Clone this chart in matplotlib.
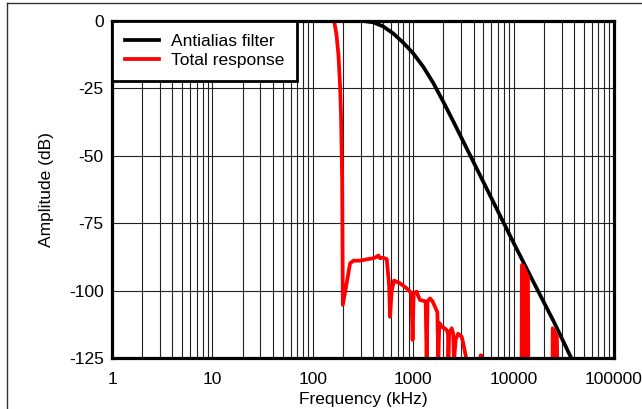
import numpy as np
import matplotlib.pyplot as plt
from matplotlib.lines import Line2D

plt.rcParams['font.family'] = ['Liberation Sans', 'DejaVu Sans']

# antialias filter response (kHz, dB)
filt_f = [316, 398, 501, 631, 794, 1000, 1259, 1585, 1995, 2512, 3162, 3981,
          5012, 6310, 7943, 10000, 15849, 25119, 39811]
filt_db = [0, -0.5, -2.0, -4.6, -8.0, -12.0, -17.0, -23.0, -30.0, -37.3,
           -44.8, -52.3, -59.8, -67.3, -74.8, -82.3, -97.0, -111.5, -127.0]

# total response (kHz, dB)
tot_f = [163, 172, 180, 187, 191, 196, 199, 218, 235, 254, 295, 344, 401, 430,
         450, 467, 500, 545, 575, 588, 610, 644, 739, 850, 895, 960, 986, 1010,
         1083, 1120, 1170, 1330, 1360, 1390, 1470, 1560, 1648, 1740, 1778,
         1820, 1923, 2050, 2157, 2220, 2240, 2280, 2417, 2500, 2550, 2650,
         2800, 3040, 3150, 3410, 3450,
         4600, 4700, 4760, 4800,
         12000, 12100, 12500, 12600, 12800, 13200, 13300, 13500, 13900, 14000,
         24400, 24500, 25500, 25700, 26000, 27000, 27200]
tot_db = [0, -5, -12.6, -24.4, -35, -60, -105.3, -97, -89.9, -88.9, -88.9,
          -88.4, -88, -87.5, -87, -88, -87.8, -88.3, -98, -109.7, -100, -96.3,
          -97.3, -99, -99.8, -101, -118.3, -101, -100.4, -102, -103.5, -104,
          -126, -104, -102.9, -104, -106, -108, -126, -112, -113.4, -114,
          -114.6, -116, -126, -116, -114, -116, -126, -118, -116, -117.1,
          -119.6, -126, -126,
          -126, -124, -124, -126,
          -126, -90.5, -91, -126, -92, -93, -126, -94, -95, -126,
          -126, -114, -115, -126, -116, -117, -126]

fig = plt.figure(figsize=(6.42, 4.09), dpi=100)
ax = fig.add_axes([0.1745, 0.1247, 0.7819, 0.824])

ax.plot(filt_f, filt_db, color='black', lw=2.7, label='Antialias filter',
        zorder=3)
ax.plot(tot_f, tot_db, color='#ff0000', lw=2.7, label='Total response',
        zorder=3)

ax.set_xscale('log')
ax.set_xlim(1, 100000)
ax.set_ylim(-125, 0)
ax.set_xticks([1, 10, 100, 1000, 10000, 100000])
ax.set_xticklabels(['1', '10', '100', '1000', '10000', '100000'])
ax.set_yticks([0, -25, -50, -75, -100, -125])
ax.set_yticklabels(['0', '-25', '-50', '-75', '-100', '-125'])
ax.xaxis.set_minor_formatter(plt.NullFormatter())

ax.grid(True, which='both', axis='x', color='#222222', lw=0.8)
ax.grid(True, which='major', axis='y', color='#222222', lw=0.8)
ax.tick_params(which='both', length=0, labelsize=12.5)
ax.tick_params(axis='x', pad=10)
ax.tick_params(axis='y', pad=6)

for s in ax.spines.values():
    s.set_linewidth(2.3)
    s.set_zorder(4)

ax.set_xlabel('Frequency (kHz)', fontsize=12.5)
ax.set_ylabel('Amplitude (dB)', fontsize=12.5)
ax.xaxis.set_label_coords(0.5, -0.1)
ax.yaxis.set_label_coords(-0.116, 0.5)

leg = ax.legend(loc='upper left', borderaxespad=0, fancybox=False,
                framealpha=1, edgecolor='black', fontsize=12.5,
                handlelength=2.0, handletextpad=0.7, borderpad=0.72,
                labelspacing=0.25)
leg.get_frame().set_linewidth(2)
leg.set_zorder(5)

# figure border (left and top)
fig.add_artist(Line2D([7 / 642, 7 / 642], [0, 1 - 3 / 409], color='#333333',
                      lw=1, transform=fig.transFigure))
fig.add_artist(Line2D([7 / 642, 1], [1 - 3 / 409, 1 - 3 / 409],
                      color='#333333', lw=1, transform=fig.transFigure))

fig.savefig('out.png', dpi=100)
